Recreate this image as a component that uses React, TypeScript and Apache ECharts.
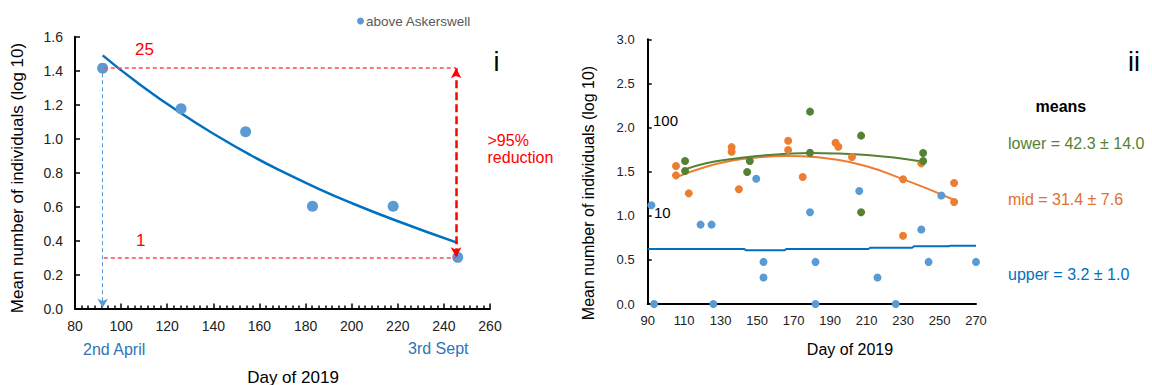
import React, { useEffect, useRef } from "react";
import * as echarts from "echarts";

// ---------- Panel i (left) ----------
const leftDays = [92, 126, 154, 183, 218, 246];
const leftVals = [1.415, 1.176, 1.041, 0.602, 0.602, 0.301];
// fitted decay curve
const leftCurveDays = [92, 107, 126, 143, 156, 168, 185, 199, 218, 246];
const leftCurveVals = [1.49, 1.33, 1.149, 1.005, 0.904, 0.819, 0.709, 0.626, 0.524, 0.386];
const leftXTicks = { min: 80, max: 260, step: 20 };
const leftYTicks = { min: 0, max: 1.6, step: 0.2 };

// ---------- Panel ii (right) ----------
const upperDays = [92, 93.5, 119, 125, 126, 149.5, 153.5, 153.5, 179, 182, 182, 206, 216, 226, 240, 244, 251, 270];
const upperVals = [1.12, 0, 0.9, 0.9, 0, 1.42, 0.477, 0.301, 1.04, 0.477, 0, 1.28, 0.301, 0, 0.845, 0.477, 1.23, 0.477];
const midDays = [105.5, 105.5, 112.5, 136, 136, 140, 167, 167, 175, 193, 194.5, 202, 230, 230, 240, 258, 258];
const midVals = [1.564, 1.458, 1.254, 1.778, 1.725, 1.3, 1.851, 1.745, 1.439, 1.828, 1.783, 1.666, 1.413, 0.774, 1.594, 1.371, 1.156];
const lowerDays = [110.5, 110.5, 144.5, 146, 179, 179, 207, 207, 241, 241];
const lowerVals = [1.62, 1.507, 1.496, 1.62, 2.18, 1.715, 1.908, 1.04, 1.711, 1.62];

const lowerTrendDays = [109.5, 122, 135, 150, 166, 179.5, 195, 210, 225, 241];
const lowerTrendVals = [1.52, 1.595, 1.64, 1.677, 1.702, 1.712, 1.706, 1.69, 1.66, 1.613];
const midTrendDays = [105.5, 122, 135, 150, 166, 174, 192, 210, 228, 243, 258];
const midTrendVals = [1.436, 1.556, 1.62, 1.66, 1.677, 1.674, 1.64, 1.562, 1.43, 1.31, 1.179];
const upperTrendDays = [90, 143, 144, 165, 166, 211, 212, 235, 236, 255, 256, 270];
const upperTrendVals = [0.623, 0.623, 0.608, 0.608, 0.623, 0.623, 0.638, 0.638, 0.654, 0.654, 0.661, 0.661];
const rightXTicks = { min: 90, max: 270, step: 10, labelStep: 20 };
const rightYTicks = { min: 0, max: 3, step: 0.5 };

const meansLabels = ["lower = 42.3 ± 14.0", "mid = 31.4 ± 7.6", "upper = 3.2 ± 1.0"];

const FONT = "'Liberation Sans', Arial, sans-serif";
const BLUE_PT = "#5B9BD5";
const BLUE_LN = "#0070C0";
const ORANGE = "#ED7D31";
const GREEN = "#548235";
const RED = "#FF0000";

const zip = (xs: number[], ys: number[]) => xs.map((x, i) => [x, ys[i]]);

export default function App() {
  const ref = useRef<HTMLDivElement>(null);

  useEffect(() => {
    if (!ref.current) return;
    const chart = echarts.init(ref.current, undefined, { renderer: "svg" });

    const txt = (text: string, x: number, y: number, opts: any = {}) => ({
      type: "text",
      x,
      y,
      rotation: opts.rotation || 0,
      style: {
        text,
        fill: opts.color || "#000",
        font: `${opts.weight || "normal"} ${opts.size || 14}px ${FONT}`,
        textAlign: opts.align || "left",
        textVerticalAlign: "middle",
      },
      silent: true,
    });

    const option: any = {
      animation: false,
      textStyle: { fontFamily: FONT },
      legend: {
        data: [{ name: "above Askerswell", icon: "circle" }],
        left: 352,
        top: 9,
        itemWidth: 7,
        itemHeight: 7,
        itemGap: 4,
        textStyle: { fontSize: 13.5, color: "#595959", fontFamily: FONT, padding: [0, 0, 0, -3] },
      },
      grid: [
        { left: 75, top: 36.7, width: 415, height: 271.8 },
        { left: 647.7, top: 39.3, width: 328.3, height: 264.7 },
      ],
      xAxis: [
        {
          gridIndex: 0,
          type: "value",
          min: leftXTicks.min,
          max: leftXTicks.max,
          interval: leftXTicks.step,
          splitLine: { show: false },
          axisLine: { lineStyle: { color: "#000", width: 2 } },
          axisTick: { inside: true, length: 5, lineStyle: { color: "#000", width: 1.5 } },
          minorTick: { show: true, splitNumber: 7, length: 3, lineStyle: { color: "#000", width: 1.5 } },
          axisLabel: { fontSize: 14, color: "#222", margin: 10, fontFamily: FONT },
        },
        {
          gridIndex: 1,
          type: "value",
          min: rightXTicks.min,
          max: rightXTicks.max,
          interval: rightXTicks.step,
          splitLine: { show: false },
          axisLine: { lineStyle: { color: "#000", width: 2 } },
          axisTick: { show: false },
          axisLabel: {
            fontSize: 13,
            color: "#222",
            margin: 10,
            fontFamily: FONT,
            formatter: (v: number) => ((v - rightXTicks.min) % rightXTicks.labelStep === 0 ? String(v) : ""),
          },
        },
      ],
      yAxis: [
        {
          gridIndex: 0,
          type: "value",
          min: leftYTicks.min,
          max: leftYTicks.max,
          interval: leftYTicks.step,
          splitLine: { show: false },
          axisLine: { show: true, lineStyle: { color: "#000", width: 2 } },
          axisTick: { show: true, inside: true, length: 5, lineStyle: { color: "#000", width: 1.5 } },
          axisLabel: { fontSize: 14, color: "#222", margin: 12, fontFamily: FONT, formatter: (v: number) => v.toFixed(1) },
        },
        {
          gridIndex: 1,
          type: "value",
          min: rightYTicks.min,
          max: rightYTicks.max,
          interval: rightYTicks.step,
          splitLine: { show: false },
          axisLine: { show: true, lineStyle: { color: "#000", width: 2 } },
          axisTick: { show: true, inside: true, length: 4, lineStyle: { color: "#000", width: 1.5 } },
          axisLabel: { fontSize: 13, color: "#222", margin: 13, fontFamily: FONT, formatter: (v: number) => v.toFixed(1) },
        },
      ],
      series: [
        {
          name: "fit",
          type: "line",
          xAxisIndex: 0,
          yAxisIndex: 0,
          data: zip(leftCurveDays, leftCurveVals),
          smooth: 0.5,
          showSymbol: false,
          lineStyle: { color: BLUE_LN, width: 2.5 },
          z: 3,
          silent: true,
        },
        {
          name: "above Askerswell",
          type: "scatter",
          xAxisIndex: 0,
          yAxisIndex: 0,
          data: zip(leftDays, leftVals),
          symbolSize: 11,
          itemStyle: { color: BLUE_PT, opacity: 1 },
          z: 4,
          markLine: {
            silent: true,
            animation: false,
            symbol: ["none", "none"],
            label: { show: false },
            emphasis: { disabled: true },
            data: [
              [
                { coord: [92.5, leftVals[0]], symbol: "none", lineStyle: { color: "#FF4B4B", type: [4, 3], width: 1.5 } },
                { coord: [245.3, leftVals[0]], symbol: "none" },
              ],
              [
                { coord: [92.5, leftVals[5]], symbol: "none", lineStyle: { color: "#FF4B4B", type: [4, 3], width: 1.5 } },
                { coord: [245.3, leftVals[5]], symbol: "none" },
              ],
              [
                { coord: [245.3, leftVals[0]], symbol: "arrow", symbolSize: [8, 10], lineStyle: { color: RED, type: [8, 4], width: 2.5 } },
                { coord: [245.3, leftVals[5]], symbol: "arrow", symbolSize: [8, 10] },
              ],
              [
                { coord: [92, leftVals[0] - 0.03], symbol: "none", lineStyle: { color: BLUE_PT, type: [4, 3], width: 1 } },
                { coord: [92, 0.005], symbol: "arrow", symbolSize: [8, 9] },
              ],
            ],
          },
        },
        {
          name: "upper trend",
          type: "line",
          xAxisIndex: 1,
          yAxisIndex: 1,
          data: zip(upperTrendDays, upperTrendVals),
          showSymbol: false,
          lineStyle: { color: BLUE_LN, width: 2 },
          z: 2,
          silent: true,
        },
        {
          name: "mid trend",
          type: "line",
          xAxisIndex: 1,
          yAxisIndex: 1,
          data: zip(midTrendDays, midTrendVals),
          smooth: 0.5,
          showSymbol: false,
          lineStyle: { color: ORANGE, width: 2 },
          z: 2,
          silent: true,
        },
        {
          name: "lower trend",
          type: "line",
          xAxisIndex: 1,
          yAxisIndex: 1,
          data: zip(lowerTrendDays, lowerTrendVals),
          smooth: 0.5,
          showSymbol: false,
          lineStyle: { color: GREEN, width: 2 },
          z: 2,
          silent: true,
        },
        {
          name: "upper",
          type: "scatter",
          xAxisIndex: 1,
          yAxisIndex: 1,
          data: zip(upperDays, upperVals),
          symbolSize: 8,
          itemStyle: { color: BLUE_PT, opacity: 1 },
          z: 4,
        },
        {
          name: "mid",
          type: "scatter",
          xAxisIndex: 1,
          yAxisIndex: 1,
          data: zip(midDays, midVals),
          symbolSize: 8,
          itemStyle: { color: ORANGE, opacity: 1 },
          z: 4,
        },
        {
          name: "lower",
          type: "scatter",
          xAxisIndex: 1,
          yAxisIndex: 1,
          data: zip(lowerDays, lowerVals),
          symbolSize: 8,
          itemStyle: { color: GREEN, opacity: 1 },
          z: 4,
        },
      ],
      graphic: [
        // panel i
        txt("Mean number of individuals (log 10)", 17, 178, { size: 17, align: "center", rotation: Math.PI / 2 }),
        txt("Day of 2019", 293, 377, { size: 17, align: "center" }),
        txt("2nd April", 83, 349, { size: 16, color: "#2E75B6" }),
        txt("3rd Sept", 408, 348, { size: 16, color: "#2E75B6" }),
        txt("25", 135, 49, { size: 17, color: RED }),
        txt("1", 136, 240, { size: 17, color: RED }),
        txt(">95%", 487.5, 140, { size: 16, color: RED }),
        txt("reduction", 487.5, 157, { size: 16, color: RED }),
        txt("i", 496.5, 62, { size: 27, align: "center" }),
        // panel ii
        txt("Mean number of individuals (log 10)", 588, 193, { size: 16, align: "center", rotation: Math.PI / 2 }),
        txt("Day of 2019", 850, 349, { size: 16, align: "center" }),
        txt("100", 653, 120, { size: 15 }),
        txt("10", 654, 212, { size: 15 }),
        txt("ii", 1134, 62, { size: 27, align: "center" }),
        txt("means", 1035.5, 106, { size: 16, weight: "bold" }),
        txt(meansLabels[0], 1008, 143, { size: 16, color: GREEN }),
        txt(meansLabels[1], 1008, 199, { size: 16, color: "#E0702A" }),
        txt(meansLabels[2], 1008, 274, { size: 16, color: BLUE_LN }),
      ],
    };

    chart.setOption(option);
    return () => chart.dispose();
  }, []);

  return (
    <div
      ref={ref}
      style={{ position: "absolute", left: 0, top: 0, width: 1152, height: 385, background: "#fff" }}
    />
  );
}
